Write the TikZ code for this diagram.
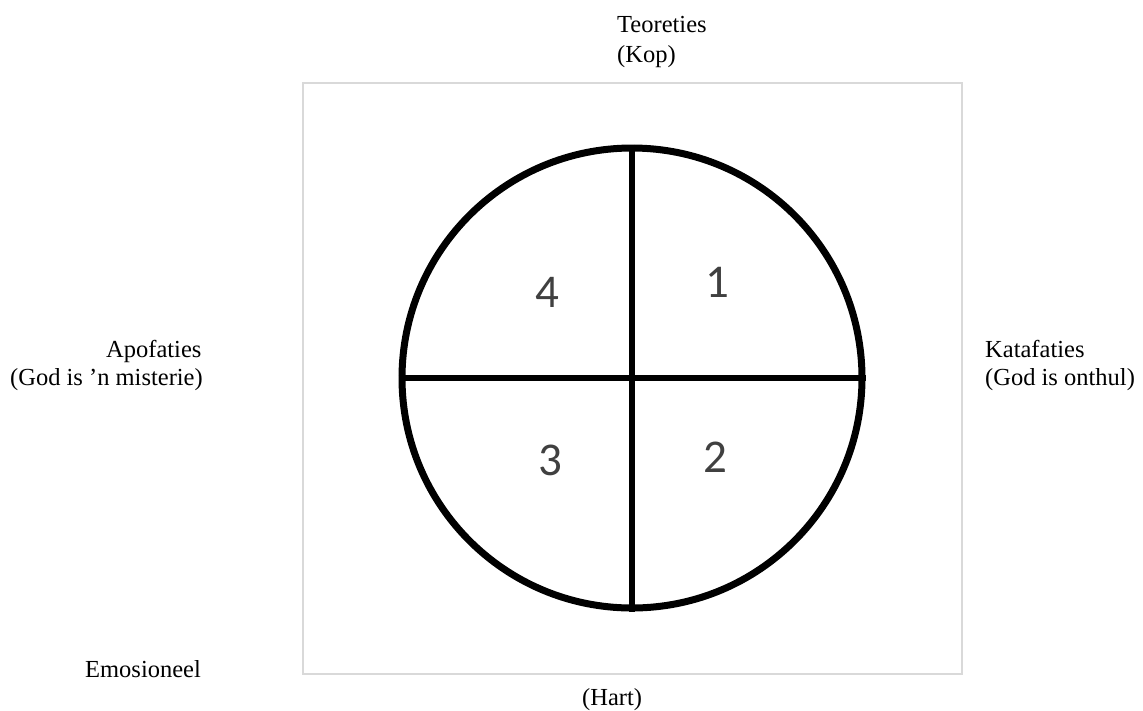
\documentclass[tikz,border=0pt]{standalone}
\usepackage{fontspec}
\setmainfont{Liberation Serif}
\newfontfamily\digitfont{Carlito}
\begin{document}
\begin{tikzpicture}[x=1pt,y=-1pt,
  lbl/.style={anchor=base west,inner sep=0pt,font=\fontsize{24.5}{30}\selectfont},
  num/.style={inner sep=0pt,text=black!75,font=\digitfont\fontsize{47}{50}\selectfont},
  frame/.style={draw=black!15,line width=2pt},
  quad/.style={draw=black,line width=7pt}]
\useasboundingbox (0,0) rectangle (1143,710);
\node[frame,minimum width=659pt,minimum height=591pt,inner sep=0pt] (box) at (632.5,378.5) {};
\coordinate (c) at (632,378);
\node[quad,circle,minimum size=460pt,inner sep=0pt] (circ) at (c) {};
\draw[quad,line width=6pt] (circ.north) -- (circ.south);
\draw[quad,line width=6pt] (circ.west) -- (circ.east);
\node[num] (n1) at (717,282) {1};
\node[num] (n2) at (715,457) {2};
\node[num] (n3) at (550,460) {3};
\node[num] (n4) at (547,292) {4};
\node[lbl] (t1) at (617,32) {Teoreties};
\node[lbl] (t2) at (617,62) {(Kop)};
\node[lbl] (a1) at (106,357) {Apofaties};
\node[lbl] (a2) at (10,385) {(God is ’n misterie)};
\node[lbl] (k1) at (985,357) {Katafaties};
\node[lbl] (k2) at (985,385) {(God is onthul)};
\node[lbl] (e1) at (85,677) {Emosioneel};
\node[lbl] (h1) at (582,705) {(Hart)};
\end{tikzpicture}
\end{document}
